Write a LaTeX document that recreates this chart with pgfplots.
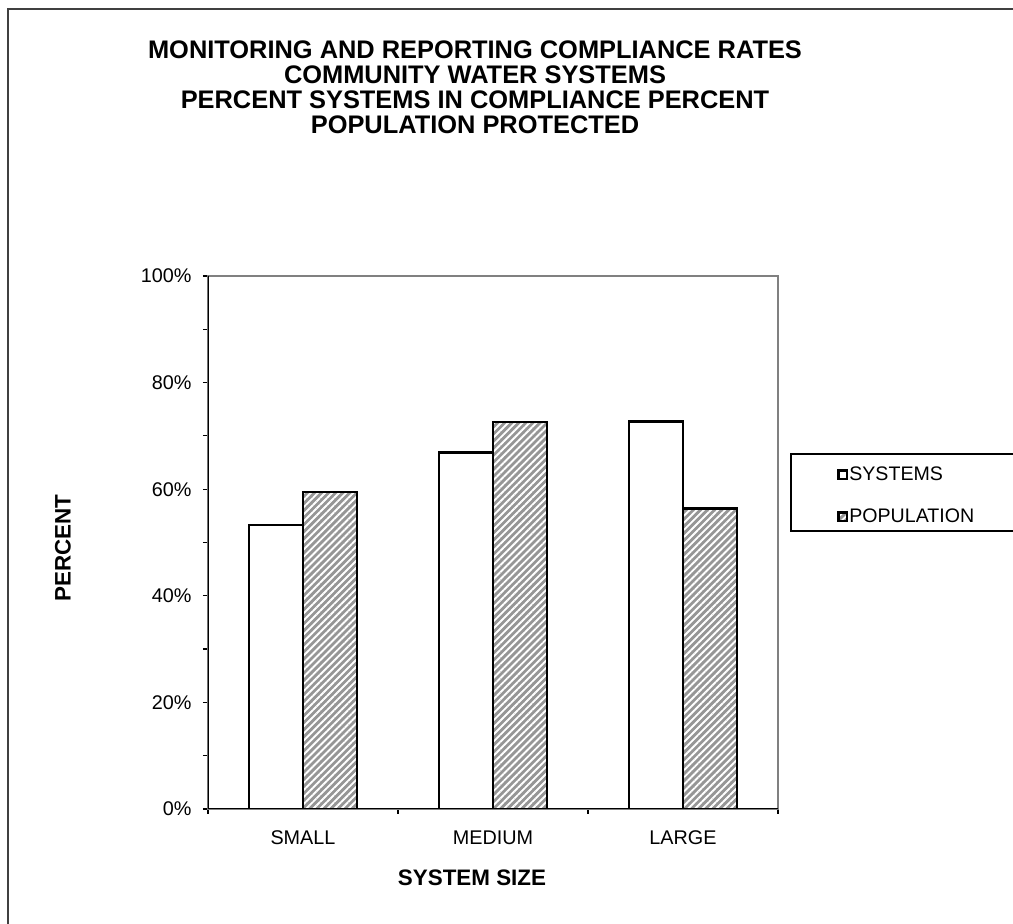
\documentclass[border=0pt]{standalone}
\usepackage{pgfplots}
\pgfplotsset{compat=1.18}
\usepackage{fontspec}
\setmainfont{Liberation Sans}
\usetikzlibrary{patterns.meta}

\definecolor{popgray}{RGB}{150,150,150}

\begin{document}
\begin{tikzpicture}
% image pixel frame (1px = 0.5pt), origin moved to the plot area's lower left corner
\begin{scope}[x=0.5pt,y=-0.5pt,shift={(-104pt,404.5pt)}]
  \useasboundingbox (0,0) rectangle (1013,924);
  \draw[line width=1pt, black!75] (8,924) -- (8,9) -- (1013,9);
  \draw[line width=0.6pt] (1013,454) -- (791,454) -- (791,531) -- (1013,531);
  \node[align=center, font=\fontsize{12.7}{12.5}\selectfont\bfseries] at (475,87)
    {MONITORING AND REPORTING COMPLIANCE RATES\\COMMUNITY WATER SYSTEMS\\
     PERCENT SYSTEMS IN COMPLIANCE PERCENT\\POPULATION PROTECTED};
  \node[rotate=90, font=\fontsize{11.2}{13}\selectfont\bfseries] at (63,548) {PERCENT};
  \node[font=\fontsize{11.2}{13}\selectfont\bfseries] at (472,878) {SYSTEM SIZE};
\end{scope}

\begin{axis}[
  at={(0,0)}, anchor=south west,
  scale only axis, width=285pt, height=266.5pt,
  xmin=0, xmax=3, ymin=0, ymax=100,
  ybar=0pt, bar width=27pt,
  axis line style={draw=gray, line width=0.8pt},
  tick pos=left, tick align=outside,
  major tick length=2.5pt, minor tick length=2.5pt,
  tick style={black, line width=0.6pt},
  xtick={0,1,2,3}, xticklabels={},
  extra x ticks={0.5,1.5,2.5}, extra x tick labels={SMALL,MEDIUM,LARGE},
  extra x tick style={major tick length=0pt, tick style={draw=none},
    xticklabel style={yshift=-7.5pt}},
  ytick={0,20,...,100}, yticklabels={0\%,20\%,40\%,60\%,80\%,100\%},
  minor ytick={10,30,...,90},
  ticklabel style={font=\fontsize{9.9}{11}\selectfont},
  yticklabel style={xshift=-2.2pt},
  legend style={draw=none, fill=none, at={(1.103,0.6455)}, anchor=north west,
    font=\fontsize{9.8}{11}\selectfont, row sep=11.5pt, inner sep=0pt,
    nodes={inner sep=0.6pt}},
  legend cell align=left,
  legend image code/.code={\draw[#1, line width=1.3pt] (0pt,-2.1pt) rectangle (4.2pt,2.1pt);},
]
\addplot[draw=black, line width=1.2pt, fill=white]
  coordinates {(0.5,53.3) (1.5,66.9) (2.5,72.7)};
\addplot[draw=black, line width=1.2pt, preaction={fill=popgray},
  pattern={Lines[angle=45,distance=2.5pt,line width=0.95pt]}, pattern color=white]
  coordinates {(0.5,59.5) (1.5,72.6) (2.5,56.4)};
\legend{SYSTEMS,POPULATION}
\draw[black, line width=0.8pt] (rel axis cs:0,1) -- (rel axis cs:0,0) -- (rel axis cs:1,0);
\end{axis}
\end{tikzpicture}
\end{document}
